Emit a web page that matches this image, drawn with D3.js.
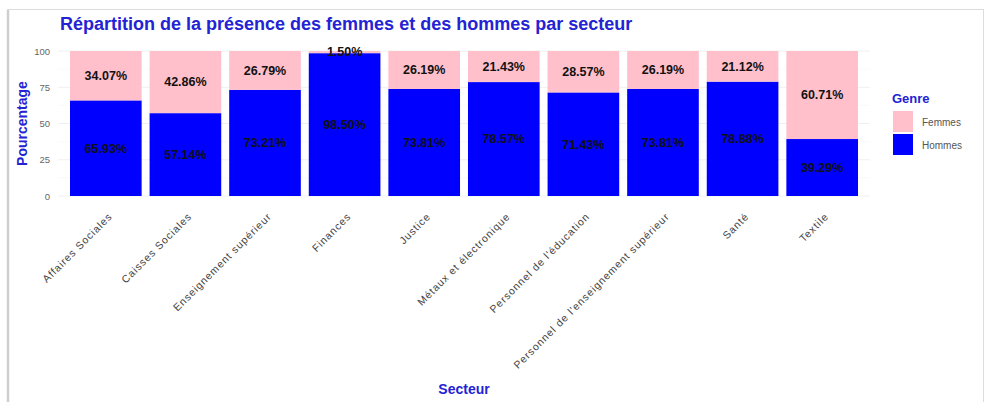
<!DOCTYPE html>
<html>
<head>
<meta charset="utf-8">
<script src="https://cdn.jsdelivr.net/npm/d3@7"></script>
<style>
  html, body { margin: 0; padding: 0; background: #fff; }
  svg { display: block; font-family: "Liberation Sans", Arial, sans-serif; }
</style>
</head>
<body>
<svg id="chart" width="989" height="402"></svg>
<script>
// Répartition femmes / hommes par secteur (en %)
const secteurs = [
  "Affaires Sociales", "Caisses Sociales", "Enseignement supérieur", "Finances",
  "Justice", "Métaux et électronique", "Personnel de l'éducation",
  "Personnel de l'enseignement supérieur", "Santé", "Textile"
];
const hommes = [65.93, 57.14, 73.21, 98.50, 73.81, 78.57, 71.43, 73.81, 78.88, 39.29];
const femmes = [34.07, 42.86, 26.79, 1.50, 26.19, 21.43, 28.57, 26.19, 21.12, 60.71];
const genres = ["Femmes", "Hommes"];
const couleurs = ["pink", "blue"];
const yTicks = [0, 25, 50, 75, 100];

const svg = d3.select("#chart");

// panneau encadré
svg.append("rect").attr("x", 7.5).attr("y", 9.5).attr("width", 976).attr("height", 400)
  .attr("fill", "#fff").attr("stroke", "#dcdcdc").attr("stroke-width", 1);
svg.append("line").attr("x1", 8).attr("x2", 8).attr("y1", 10).attr("y2", 402)
  .attr("stroke", "#cfcfcf").attr("stroke-width", 2.5);

const panel = { left: 58, right: 870, top: 43.75, bottom: 203.25 };

const x = d3.scaleBand().domain(secteurs)
  .range([70, 858]).paddingInner(0.1).paddingOuter(0);
const y = d3.scaleLinear().domain([-5, 105]).range([panel.bottom, panel.top]);
const color = d3.scaleOrdinal().domain(genres).range(couleurs);

// grille
const g = svg.append("g");
const minor = [12.5, 37.5, 62.5, 87.5];
g.selectAll("line.minor").data(minor).join("line")
  .attr("x1", panel.left).attr("x2", panel.right)
  .attr("y1", d => y(d)).attr("y2", d => y(d))
  .attr("stroke", "#f6f6f6").attr("stroke-width", 0.6);
g.selectAll("line.major").data(yTicks).join("line")
  .attr("x1", panel.left).attr("x2", panel.right)
  .attr("y1", d => y(d)).attr("y2", d => y(d))
  .attr("stroke", "#f0f0f0").attr("stroke-width", 1);

// barres empilées : Hommes en bas, Femmes au-dessus
const rows = secteurs.map((s, i) => ({ secteur: s, Hommes: hommes[i], Femmes: femmes[i] }));
const stack = d3.stack().keys(["Hommes", "Femmes"]);
const series = stack(rows);

const layers = svg.append("g").selectAll("g").data(series).join("g")
  .attr("fill", d => color(d.key));
layers.selectAll("rect").data(d => d).join("rect")
  .attr("x", d => x(d.data.secteur))
  .attr("width", x.bandwidth())
  .attr("y", d => y(d[1]))
  .attr("height", d => y(d[0]) - y(d[1]));

// étiquettes de pourcentage au milieu de chaque segment
const labels = svg.append("g");
series.forEach(s => {
  labels.selectAll(null).data(s).join("text")
    .attr("x", d => x(d.data.secteur) + x.bandwidth() / 2)
    .attr("y", d => y((d[0] + d[1]) / 2))
    .attr("dy", "0.35em")
    .attr("text-anchor", "middle")
    .attr("font-size", 12.5).attr("font-weight", "bold").attr("fill", "#111")
    .text(d => d.data[s.key].toFixed(2) + "%");
});

// axe Y
const yAxis = d3.axisLeft(y).tickValues(yTicks).tickSize(0).tickPadding(8);
const ya = svg.append("g").attr("transform", `translate(${panel.left},0)`).call(yAxis);
ya.select(".domain").remove();
ya.selectAll("text").attr("font-size", 9.5).attr("fill", "#666")
  .attr("font-family", "Liberation Sans, Arial, sans-serif");

// axe X (étiquettes inclinées)
const xAxis = d3.axisBottom(x).tickSize(0).tickPadding(0);
const xa = svg.append("g").attr("transform", `translate(0,${panel.bottom})`).call(xAxis);
xa.select(".domain").remove();
xa.selectAll("text")
  .attr("font-size", 10.5).attr("fill", "#444").attr("letter-spacing", 0.9)
  .attr("font-family", "Liberation Sans, Arial, sans-serif")
  .attr("text-anchor", "end")
  .attr("dy", 0).attr("y", 0)
  .attr("transform", "translate(7,14) rotate(-45)");

// titres
svg.append("text").attr("x", 60).attr("y", 30)
  .attr("font-size", 18).attr("font-weight", "bold").attr("fill", "#2323d4")
  .text("Répartition de la présence des femmes et des hommes par secteur");

svg.append("text")
  .attr("transform", `translate(27,${(panel.top + panel.bottom) / 2}) rotate(-90)`)
  .attr("text-anchor", "middle")
  .attr("font-size", 14).attr("font-weight", "bold").attr("fill", "#2323d4")
  .text("Pourcentage");

svg.append("text").attr("x", (panel.left + panel.right) / 2).attr("y", 394)
  .attr("text-anchor", "middle")
  .attr("font-size", 14).attr("font-weight", "bold").attr("fill", "#2323d4")
  .text("Secteur");

// légende
const leg = svg.append("g").attr("transform", "translate(892,0)");
leg.append("text").attr("x", 0).attr("y", 103)
  .attr("font-size", 13).attr("font-weight", "bold").attr("fill", "#2323d4")
  .text("Genre");
const items = leg.selectAll("g.item").data(genres).join("g")
  .attr("transform", (d, i) => `translate(1,${111 + i * 23})`);
items.append("rect").attr("width", 20).attr("height", 21).attr("fill", d => color(d));
items.append("text").attr("x", 29).attr("y", 11).attr("dy", "0.35em")
  .attr("font-size", 10).attr("fill", "#555").text(d => d);
</script>
</body>
</html>
